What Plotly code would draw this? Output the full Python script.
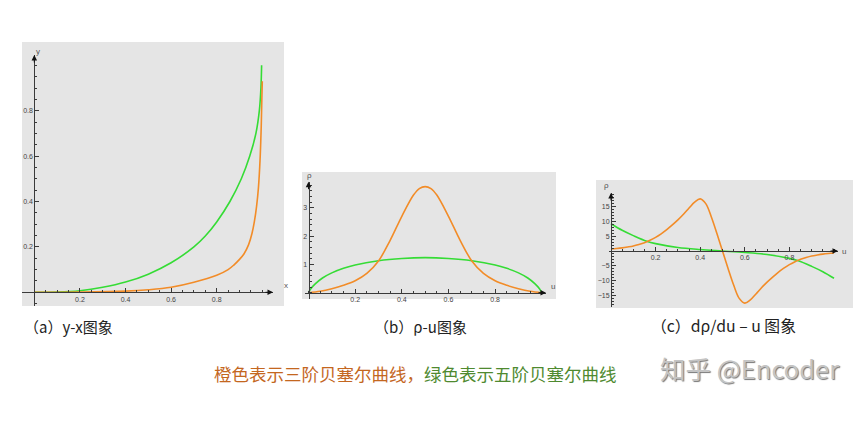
import plotly.graph_objects as go

W, H = 865, 423
PAGE_OFFSET = 8  # the browser puts the plot 8px in from the page corner

# (a) y-x curves
a_x_green = [0, 0.1, 0.2, 0.3, 0.4, 0.5, 0.6, 0.7, 0.75, 0.8, 0.858, 0.908, 0.945, 0.972,
             0.987, 0.994, 0.997]
a_y_green = [0, 0.001, 0.007, 0.022, 0.045, 0.08, 0.13, 0.2, 0.248, 0.31, 0.4, 0.5, 0.6, 0.7,
             0.8, 0.9, 1.0]
a_x_orange = [0, 0.2, 0.4, 0.5, 0.6, 0.7, 0.8, 0.85, 0.875, 0.9, 0.92, 0.94, 0.955, 0.965, 0.975,
              0.983, 0.99, 0.995, 0.998, 1.0]
a_y_orange = [0, 0.001, 0.005, 0.011, 0.022, 0.044, 0.075, 0.1, 0.12, 0.145, 0.17, 0.21, 0.26, 0.31,
              0.38, 0.46, 0.58, 0.72, 0.85, 0.93]

# (b) rho-u curves
b_u_orange = [0, 0.05, 0.1, 0.15, 0.2, 0.25, 0.3, 0.35, 0.4, 0.45, 0.475, 0.5,
              0.525, 0.55, 0.6, 0.65, 0.7, 0.75, 0.8, 0.85, 0.9, 0.95, 1.0]
b_rho_orange = [0, 0.05, 0.14, 0.26, 0.42, 0.68, 1.12, 1.85, 2.7, 3.45, 3.68, 3.75,
                3.68, 3.45, 2.7, 1.85, 1.12, 0.68, 0.42, 0.26, 0.14, 0.05, 0]
b_u_green = [0, 0.01, 0.03, 0.06, 0.1, 0.15, 0.2, 0.3, 0.4, 0.5,
             0.6, 0.7, 0.8, 0.85, 0.9, 0.94, 0.97, 0.99, 1.0]
b_rho_green = [0, 0.14, 0.32, 0.52, 0.7, 0.86, 0.98, 1.13, 1.21, 1.24,
               1.21, 1.13, 0.98, 0.86, 0.7, 0.52, 0.32, 0.14, 0]

# (c) drho/du - u curves
c_u_orange = [0, 0.025, 0.05, 0.075, 0.1, 0.125, 0.15, 0.175, 0.2, 0.225, 0.25, 0.275,
              0.3, 0.325, 0.35, 0.375, 0.4, 0.425, 0.45, 0.475, 0.5,
              0.525, 0.55, 0.575, 0.6, 0.625, 0.65, 0.675, 0.7, 0.725, 0.75, 0.775,
              0.8, 0.825, 0.85, 0.875, 0.9, 0.925, 0.95, 0.975, 1.0]
c_d_orange = [0.7, 0.85, 1.05, 1.35, 1.7, 2.2, 2.8, 3.6, 4.6, 5.8, 7.2, 8.8,
              10.5, 12.4, 14.5, 16.5, 17.6, 16.0, 11.5, 5.9, 0,
              -5.9, -11.5, -16.0, -17.6, -16.5, -14.5, -12.4, -10.5, -8.8, -7.2, -5.8,
              -4.6, -3.6, -2.8, -2.2, -1.7, -1.35, -1.05, -0.85, -0.7]
c_u_green = [0, 0.05, 0.1, 0.16, 0.2, 0.3, 0.4, 0.5, 0.6, 0.7, 0.8, 0.84, 0.9, 0.95, 1.0]
c_d_green = [9.2, 7.0, 5.2, 3.3, 2.5, 1.2, 0.5, 0, -0.5, -1.2, -2.5, -3.3, -5.2, -7.0, -9.2]

x_ticks = [0.2, 0.4, 0.6, 0.8]
a_y_ticks = [0.2, 0.4, 0.6, 0.8]
b_y_ticks = [1, 2, 3]
c_y_ticks = [-15, -10, -5, 5, 10, 15]

ORANGE = "#f28c28"
GREEN = "#35dc35"
AXIS = "#3a3a3a"
TICKFONT = dict(family="Liberation Sans, Arial", size=7, color="#444444")


def px(x):
    return (x - PAGE_OFFSET) / W


def py(y):
    return 1 - (y - PAGE_OFFSET) / H


# pixel geometry of each panel: gray box, origin, pixels per unit, axis extents
panels = [
    dict(box=(22, 284, 42, 306), o=(34.3, 292.3), s=(228, 227),
         xext=(22, 273), yext=(55, 306), yticks=a_y_ticks, minor=(0.05, 0.05),
         xname=("x", 281.5, 292), yname=("y", 34, 45),
         curves=[(a_x_green, a_y_green, GREEN), (a_x_orange, a_y_orange, ORANGE)]),
    dict(box=(302, 556, 172, 299), o=(308.5, 292.7), s=(233.3, 28.3),
         xext=(305, 546), yext=(181.7, 299), yticks=b_y_ticks, minor=(0.05, 0.2),
         xname=("u", 553, 292.5), yname=("ρ", 309, 175),
         curves=[(b_u_green, b_rho_green, GREEN), (b_u_orange, b_rho_orange, ORANGE)]),
    dict(box=(596, 853, 180, 308), o=(611, 251), s=(223, 2.96),
         xext=(609, 838), yext=(193, 307), yticks=c_y_ticks, minor=(0.05, 1),
         xname=("u", 848, 251), yname=("ρ", 611, 186),
         curves=[(c_u_green, c_d_green, GREEN), (c_u_orange, c_d_orange, ORANGE)]),
]

fig = go.Figure()
shapes = []
annotations = []
layout_axes = {}

for i, p in enumerate(panels):
    n = "" if i == 0 else str(i + 1)
    ox, oy = p["o"]
    sx, sy = p["s"]
    xr = [(p["xext"][0] - ox) / sx, (p["xext"][1] - ox) / sx]
    yr = [(oy - p["yext"][1]) / sy, (oy - p["yext"][0]) / sy]

    for xs, ys, col in p["curves"]:
        fig.add_trace(go.Scatter(
            x=xs, y=ys, mode="lines", xaxis="x" + n, yaxis="y" + n,
            line=dict(color=col, width=1.6, shape="spline", smoothing=1.0),
            hoverinfo="skip"))

    layout_axes["xaxis" + n] = dict(
        domain=[px(p["xext"][0]), px(p["xext"][1])], range=xr,
        anchor="free", position=py(oy), showline=True, linecolor=AXIS, linewidth=1,
        showgrid=False, zeroline=False, ticks="inside", ticklen=4, tickcolor=AXIS,
        tickvals=x_ticks, tickfont=TICKFONT,
        minor=dict(dtick=p["minor"][0], tick0=0, ticks="inside", ticklen=2, tickcolor=AXIS))
    layout_axes["yaxis" + n] = dict(
        domain=[py(p["yext"][1]), py(p["yext"][0])], range=yr,
        anchor="free", position=px(ox), showline=True, linecolor=AXIS, linewidth=1,
        showgrid=False, zeroline=False, ticks="inside", ticklen=4, tickcolor=AXIS,
        tickvals=p["yticks"], tickfont=TICKFONT,
        minor=dict(dtick=p["minor"][1], tick0=0, ticks="inside", ticklen=2, tickcolor=AXIS))

    x0, x1, y0, y1 = p["box"]
    shapes.append(dict(type="rect", xref="paper", yref="paper", layer="below",
                       x0=px(x0), x1=px(x1), y0=py(y1), y1=py(y0),
                       fillcolor="#e5e5e5", line=dict(width=0)))

    # arrow heads on the axes
    annotations.append(dict(xref="paper", yref="paper", x=px(p["xext"][1]), y=py(oy),
                            ax=-9, ay=0, text="", showarrow=True, arrowhead=2,
                            arrowsize=1.1, arrowwidth=1, arrowcolor="#111111", standoff=0))
    annotations.append(dict(xref="paper", yref="paper", x=px(ox), y=py(p["yext"][0]),
                            ax=0, ay=9, text="", showarrow=True, arrowhead=2,
                            arrowsize=1.1, arrowwidth=1, arrowcolor="#111111", standoff=0))
    for t, tx, ty in (p["xname"], p["yname"]):
        annotations.append(dict(xref="paper", yref="paper", x=px(tx), y=py(ty), text=t,
                                showarrow=False, font=dict(family="Liberation Sans", size=8,
                                                           color="#555555")))

captions = [("（a）y-x图象", 22, 15), ("（b）ρ-u图象", 372, 15), ("（c）dρ/du – u 图象", 649, 15.8)]
for text, cx, size in captions:
    annotations.append(dict(xref="paper", yref="paper", x=px(cx), y=py(339), text=text,
                            xanchor="left", showarrow=False,
                            font=dict(family="Noto Sans CJK SC", size=size, color="#222222")))

annotations.append(dict(
    xref="paper", yref="paper", x=px(212), y=py(388), xanchor="left", showarrow=False,
    text='<span style="color:#c4671f">橙色表示三阶贝塞尔曲线，</span>'
         '<span style="color:#4f8a30">绿色表示五阶贝塞尔曲线</span>',
    font=dict(family="Noto Sans CJK SC", size=17.5)))
annotations.append(dict(
    xref="paper", yref="paper", x=px(658), y=py(388), xanchor="left", showarrow=False,
    text="知乎 @Encoder",
    font=dict(family="Noto Sans CJK SC", size=25.5, color="#c4c4c4",
              shadow="1px 1px 1px #777777")))

fig.update_layout(
    width=W, height=H, margin=dict(l=0, r=0, t=0, b=0),
    paper_bgcolor="white", plot_bgcolor="rgba(0,0,0,0)",
    showlegend=False, shapes=shapes, annotations=annotations, **layout_axes)

fig.write_html("out.html")
